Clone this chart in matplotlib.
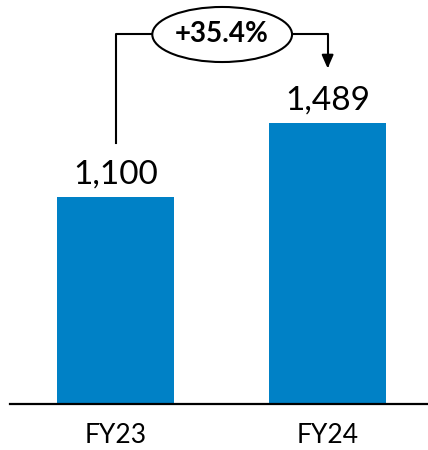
import matplotlib.pyplot as plt
from matplotlib.patches import Ellipse

# data
years = ['FY23', 'FY24']
revenue = [1100, 1489]
labels = ['1,100', '1,489']
growth = '+35.4%'

plt.rcParams['font.family'] = ['Lato', 'DejaVu Sans']

fig = plt.figure(figsize=(4.28, 4.5), dpi=100)
ax = fig.add_axes([10 / 428, 46 / 450, 418 / 428, 404 / 450])

x = list(range(len(years)))
ax.bar(x, revenue, width=0.552, color='#0081C6')

for xi, v, lab in zip(x, revenue, labels):
    ax.text(xi, v + 40, lab, ha='center', va='bottom', fontsize=24, color='black')

ax.set_xlim(-0.5, 1.474)
ax.set_ylim(0, 2143)

for s in ['top', 'right', 'left']:
    ax.spines[s].set_visible(False)
ax.spines['bottom'].set_linewidth(1.6)
ax.set_yticks([])
ax.set_xticks(x)
ax.set_xticklabels(years, fontsize=19)
ax.tick_params(axis='x', length=0, pad=14)

# growth bracket
top = 1965
ax.plot([0, 0, 0.17], [1385, top, top], color='black', lw=1.5, clip_on=False)
ax.annotate('', xy=(1, 1780), xytext=(0.83, top),
            arrowprops=dict(arrowstyle='-|>,head_length=0.8,head_width=0.35',
                            connectionstyle='angle,angleA=0,angleB=90,rad=0',
                            color='black', lw=1.5, shrinkA=0, shrinkB=0))
ell = Ellipse((0.502, 1960), 0.66, 292, facecolor='white', edgecolor='black', lw=1.5, zorder=3)
ax.add_patch(ell)
ax.text(0.502, 1960, growth, ha='center', va='center', fontsize=20, fontweight='bold', zorder=4)

fig.savefig('out.png', dpi=100)
